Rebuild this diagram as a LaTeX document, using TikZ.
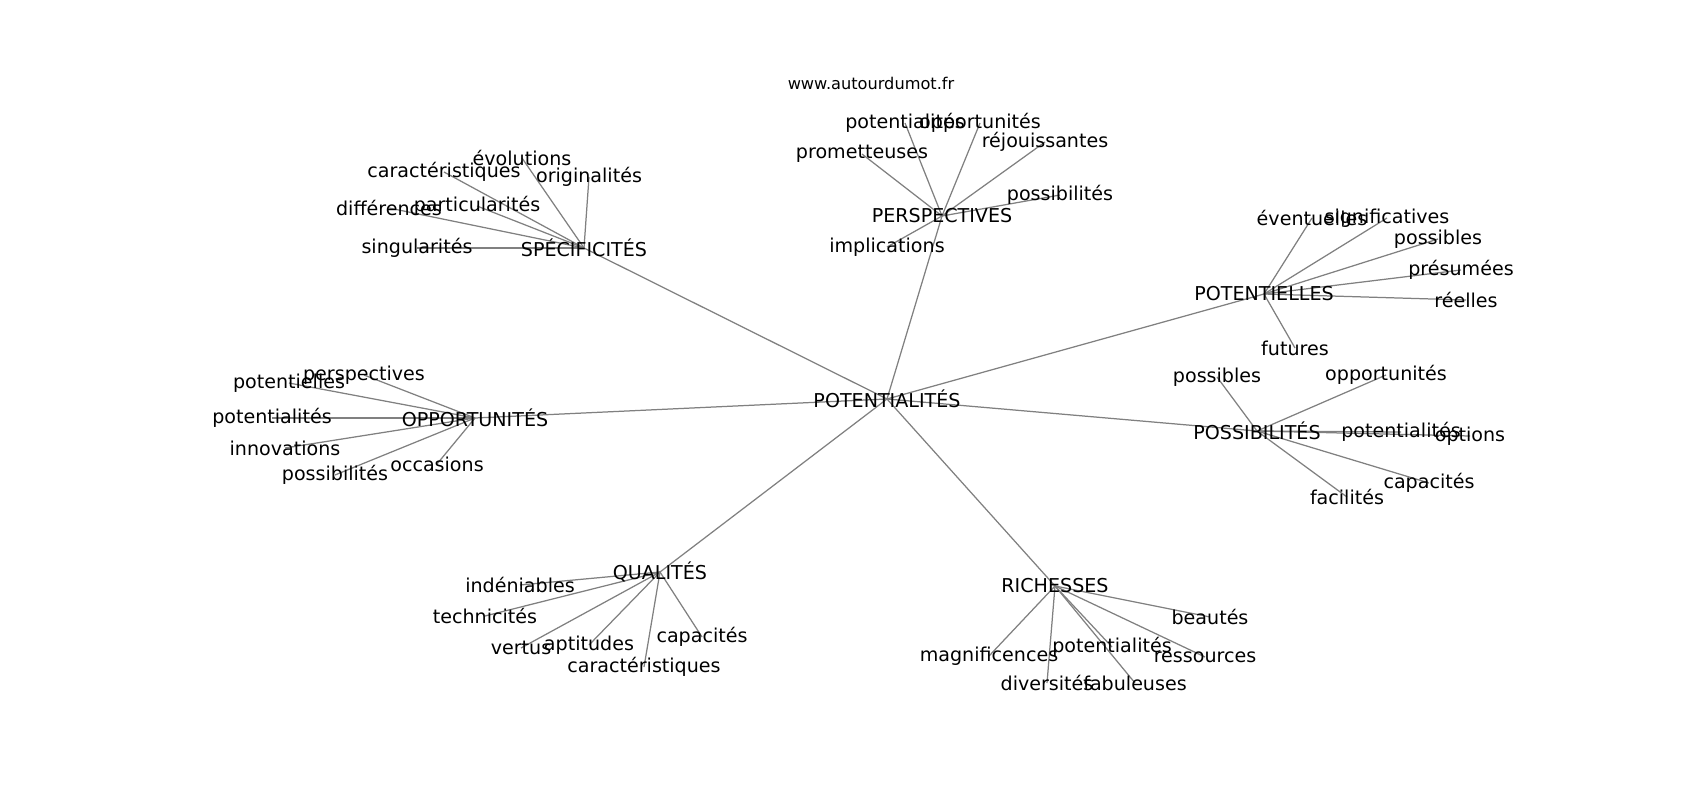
\documentclass[tikz,border=0pt]{standalone}
\usepackage{fontspec}
\setmainfont{DejaVu Sans}
\usepackage{tikz}
\usetikzlibrary{backgrounds}

\begin{document}
\begin{tikzpicture}[x=0.254mm, y=-0.254mm,
    word/.style={inner sep=0pt, font=\fontsize{13.8}{16}\selectfont},
    site/.style={inner sep=0pt, font=\fontsize{11.7}{14}\selectfont},
    link/.style={draw=black!50, line width=0.9pt}]
  \useasboundingbox (0,0) rectangle (1700,800);

  \node[site] (site) at (871,83) {www.autourdumot.fr};

  \node[word] (pot) at (887,399) {POTENTIALITÉS};

  \node[word] (spec) at (584,248) {SPÉCIFICITÉS};
  \node[word] (evol) at (522,158) {évolutions};
  \node[word] (caract) at (444,172) {caractéristiques};
  \node[word] (orig) at (589,177) {originalités};
  \node[word] (diff) at (389,208) {différences};
  \node[word] (partic) at (477,206) {particularités};
  \node[word] (sing) at (417,248) {singularités};

  \node[word] (persp) at (942,216) {PERSPECTIVES};
  \node[word] (potent) at (905,123) {potentialités};
  \node[word] (opport) at (980,123) {opportunités};
  \node[word] (promet) at (862,154) {prometteuses};
  \node[word] (rejou) at (1045,142) {réjouissantes};
  \node[word] (possib) at (1060,195) {possibilités};
  \node[word] (implic) at (887,247) {implications};

  \node[word] (potl) at (1264,294) {POTENTIELLES};
  \node[word] (eventu) at (1312,218) {éventuelles};
  \node[word] (signif) at (1387,218) {significatives};
  \node[word] (possl) at (1438,239) {possibles};
  \node[word] (presu) at (1461,270) {présumées};
  \node[word] (reel) at (1466,300) {réelles};
  \node[word] (futur) at (1295,348) {futures};

  \node[word] (poss) at (1257,431) {POSSIBILITÉS};
  \node[word] (possb) at (1217,377) {possibles};
  \node[word] (opps) at (1386,375) {opportunités};
  \node[word] (pots) at (1401,432) {potentialités};
  \node[word] (opti) at (1470,436) {options};
  \node[word] (capas) at (1429,483) {capacités};
  \node[word] (faci) at (1347,497) {facilités};

  \node[word] (opp) at (475,418) {OPPORTUNITÉS};
  \node[word] (perspo) at (364,375) {perspectives};
  \node[word] (potlo) at (289,383) {potentielles};
  \node[word] (poto) at (272,418) {potentialités};
  \node[word] (innov) at (285,448) {innovations};
  \node[word] (posso) at (335,475) {possibilités};
  \node[word] (occas) at (437,464) {occasions};

  \node[word] (qual) at (660,572) {QUALITÉS};
  \node[word] (inden) at (520,585) {indéniables};
  \node[word] (techn) at (485,616) {technicités};
  \node[word] (vertu) at (521,648) {vertus};
  \node[word] (aptit) at (589,645) {aptitudes};
  \node[word] (capaq) at (702,637) {capacités};
  \node[word] (caractq) at (644,667) {caractéristiques};

  \node[word] (rich) at (1055,586) {RICHESSES};
  \node[word] (beau) at (1210,617) {beautés};
  \node[word] (magn) at (989,656) {magnificences};
  \node[word] (potr) at (1112,647) {potentialités};
  \node[word] (ress) at (1205,657) {ressources};
  \node[word] (divers) at (1047,683) {diversités};
  \node[word] (fabul) at (1135,683) {fabuleuses};

  \begin{scope}[on background layer]
    \foreach \hub in {spec, persp, potl, poss, opp, qual, rich}
      \draw[link] (pot.center) -- (\hub.center);
    \foreach \leaf in {evol, caract, orig, diff, partic, sing}
      \draw[link] (spec.center) -- (\leaf.center);
    \foreach \leaf in {potent, opport, promet, rejou, possib, implic}
      \draw[link] (persp.center) -- (\leaf.center);
    \foreach \leaf in {eventu, signif, possl, presu, reel, futur}
      \draw[link] (potl.center) -- (\leaf.center);
    \foreach \leaf in {possb, opps, pots, opti, capas, faci}
      \draw[link] (poss.center) -- (\leaf.center);
    \foreach \leaf in {perspo, potlo, poto, innov, posso, occas}
      \draw[link] (opp.center) -- (\leaf.center);
    \foreach \leaf in {inden, techn, vertu, aptit, capaq, caractq}
      \draw[link] (qual.center) -- (\leaf.center);
    \foreach \leaf in {beau, magn, potr, ress, divers, fabul}
      \draw[link] (rich.center) -- (\leaf.center);
  \end{scope}
\end{tikzpicture}
\end{document}
